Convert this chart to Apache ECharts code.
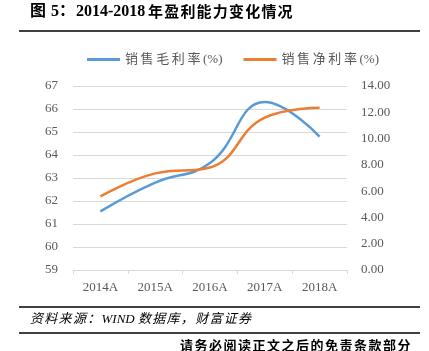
<!DOCTYPE html>
<html><head><meta charset="utf-8">
<script src="https://cdn.jsdelivr.net/npm/echarts@6/dist/echarts.min.js"></script>
<style>html,body{margin:0;padding:0;background:#fff}#c{width:429px;height:351px}</style>
</head><body><div id="c"></div>
<script>
const categories = ['2014A','2015A','2016A','2017A','2018A'];
const grossMargin = [61.55, 62.8, 63.65, 66.3, 64.8];
const netMargin = [5.6, 7.35, 7.8, 11.6, 12.35];
const leftTicks = {min:59, max:67, interval:1};
const rightTicks = {min:0, max:14, interval:2};
const seriesNames = ['销售毛利率(%)','销售净利率(%)'];

const chart = echarts.init(document.getElementById('c'));
const serif = '"Liberation Serif", "Noto Sans CJK SC", serif';
const cv = document.createElement('canvas').getContext('2d');
// place text char by char: CJK chars get a fixed pitch, others natural width
function spaced(text, x, y, pitch, font){
  cv.font = font;
  const els = [];
  let cx = x;
  for (const ch of text){
    const cjk = /[\u3000-\u9fff\uff00-\uffef]/.test(ch);
    els.push({type:'text', x:cx, y:y, style:{text:ch, font:font, fill:'#000', textVerticalAlign:'top'}});
    cx += cjk ? pitch : cv.measureText(ch).width;
  }
  return {type:'group', children:els};
}
const legendFmt = n => n.replace(/([\u4e00-\u9fff])/g, '$1\u2009');

chart.setOption({
  animation:false,
  backgroundColor:'#fff',
  grid:{left:73, right:82, top:86, bottom:81},
  legend:{
    top:48, left:82, itemWidth:33, itemHeight:3, itemGap:21,
    icon:'rect', formatter:legendFmt,
    textStyle:{fontFamily:serif, fontSize:13, color:'#595959'},
    data:seriesNames
  },
  xAxis:{
    type:'category', data:categories, boundaryGap:true,
    axisLine:{lineStyle:{color:'#d9d9d9', width:1}},
    axisTick:{show:true, length:4, lineStyle:{color:'#d9d9d9'}},
    axisLabel:{fontFamily:serif, fontSize:13, color:'#595959', margin:11}
  },
  yAxis:[{
    type:'value', min:leftTicks.min, max:leftTicks.max, interval:leftTicks.interval,
    axisLine:{show:false}, axisTick:{show:false},
    splitLine:{lineStyle:{color:'#d9d9d9', width:1}},
    axisLabel:{fontFamily:serif, fontSize:13, color:'#595959', margin:15}
  },{
    type:'value', min:rightTicks.min, max:rightTicks.max, interval:rightTicks.interval,
    axisLine:{show:false}, axisTick:{show:false}, splitLine:{show:false},
    axisLabel:{fontFamily:serif, fontSize:13, color:'#595959', margin:14,
      formatter:v=>v.toFixed(2)}
  }],
  series:[{
    name:seriesNames[0], type:'line', yAxisIndex:0, data:grossMargin, smooth:0.45,
    symbol:'none', lineStyle:{color:'#5b9bd5', width:2.5}, itemStyle:{color:'#5b9bd5'}
  },{
    name:seriesNames[1], type:'line', yAxisIndex:1, data:netMargin, smooth:0.45,
    symbol:'none', lineStyle:{color:'#ed7d31', width:2.5}, itemStyle:{color:'#ed7d31'}
  }],
  graphic:[
    spaced('图 5：2014-2018', 30, 4, 17, 'bold 16px "Liberation Serif", "Noto Sans CJK SC", serif'),
    spaced('年盈利能力变化情况', 148, 4, 16.2, 'bold 15px "Noto Sans CJK SC", serif'),
    {type:'line', shape:{x1:19, y1:31, x2:420, y2:31}, style:{stroke:'#000', lineWidth:1.5}},
    {type:'line', shape:{x1:19, y1:307, x2:420, y2:307}, style:{stroke:'#000', lineWidth:1.5}},
    spaced('资料来源：WIND 数据库，财富证券', 30, 313, 14.3, 'italic 13px "Liberation Serif", "Noto Sans CJK SC", serif'),
    {type:'line', shape:{x1:19, y1:333, x2:420, y2:333}, style:{stroke:'#000', lineWidth:1.5}},
    spaced('请务必阅读正文之后的免责条款部分', 180, 339, 14.5, 'bold 13px "Noto Sans CJK SC", serif')
  ]
});
</script></body></html>
